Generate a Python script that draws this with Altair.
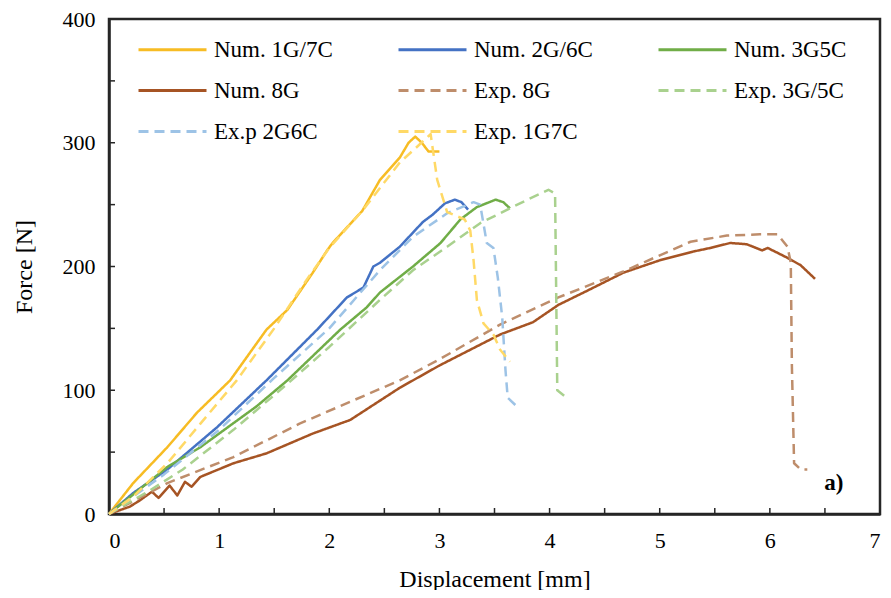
import altair as alt
import pandas as pd

# ---------------- data ----------------
series_names = ["Num. 1G/7C", "Num. 2G/6C", "Num. 3G5C", "Num. 8G",
                "Exp. 8G", "Exp. 3G/5C", "Ex.p 2G6C", "Exp. 1G7C"]
series_colors = ["#F7BC24", "#4472C4", "#70AD47", "#A65424",
                 "#BE8D6B", "#A9D18E", "#9DC3E6", "#FFD966"]
series_dashes = [[1, 0], [1, 0], [1, 0], [1, 0],
                 [10, 6], [10, 6], [10, 6], [10, 6]]
# legend is filled column by column (3 rows): this order gives the reference's row layout
legend_order = [0, 3, 6, 1, 4, 7, 2, 5]

num_1g7c_x = [0, 0.22, 0.53, 0.8, 1.1, 1.43, 1.62, 1.85, 1.98, 2.03, 2.3, 2.46, 2.64, 2.72, 2.78, 2.84, 2.9, 3.0]
num_1g7c_f = [0, 25, 54, 82, 108, 149, 165, 195, 213, 219, 245, 270, 288, 300, 305, 300, 293, 293]

num_2g6c_x = [0, 0.22, 0.53, 0.98, 1.43, 1.89, 2.16, 2.31, 2.4, 2.46, 2.64, 2.85, 2.94, 3.05, 3.14, 3.2, 3.26]
num_2g6c_f = [0, 17, 36, 70, 108, 149, 175, 183, 200, 203, 216, 236, 242, 251, 254, 252, 246]

num_3g5c_x = [0, 0.53, 0.83, 1.34, 1.62, 2.1, 2.34, 2.46, 2.76, 3.01, 3.19, 3.34, 3.51, 3.58, 3.64]
num_3g5c_f = [0, 38, 54, 87, 108, 149, 167, 179, 200, 219, 238, 248, 254, 252, 247]

num_8g_x = [0, 0.19, 0.28, 0.39, 0.45, 0.55, 0.62, 0.69, 0.75, 0.83, 1.13, 1.43, 1.85, 2.19, 2.64, 3.0,
            3.55, 3.85, 4.08, 4.31, 4.67, 5.0, 5.3, 5.46, 5.64, 5.79, 5.93, 5.98, 6.16, 6.28, 6.41]
num_8g_f = [0, 6, 11, 18, 13, 23, 15, 26, 22, 30, 41, 49, 65, 76, 102, 120,
            145, 155, 169, 179, 195, 205, 212, 215, 219, 218, 213, 215, 207, 201, 190]

exp_8g_x = [0, 0.53, 1.13, 1.73, 2.64, 3.0, 3.55, 4.08, 4.67, 5.28, 5.61, 5.91, 6.07, 6.16, 6.19, 6.2, 6.22, 6.28, 6.34]
exp_8g_f = [0, 25, 46, 73, 108, 125, 153, 175, 196, 220, 225, 226, 226, 216, 203, 120, 41, 36, 36]

exp_3g5c_x = [0, 0.37, 0.67, 1.13, 1.63, 2.0, 2.46, 2.76, 3.07, 3.37, 3.64, 3.8, 3.99, 4.05, 4.06, 4.07, 4.14]
exp_3g5c_f = [0, 19, 36, 68, 106, 135, 173, 197, 216, 235, 247, 254, 262, 259, 180, 100, 95]

exp_2g6c_x = [0, 0.5, 1.0, 1.5, 2.0, 2.46, 2.76, 3.07, 3.31, 3.37, 3.43, 3.49, 3.53, 3.57, 3.6, 3.62, 3.69]
exp_2g6c_f = [0, 32, 68, 110, 150, 197, 224, 243, 252, 250, 219, 215, 191, 159, 116, 94, 88]

exp_1g7c_x = [0, 0.22, 0.53, 0.83, 1.16, 1.5, 1.8, 2.0, 2.3, 2.64, 2.8, 2.92, 2.98, 3.07, 3.23, 3.28, 3.31,
              3.34, 3.4, 3.49, 3.55, 3.64]
exp_1g7c_f = [0, 14, 41, 73, 108, 150, 190, 215, 245, 284, 297, 307, 270, 244, 238, 229, 205,
              173, 154, 145, 133, 123]

x_ticks_major = [0, 1, 2, 3, 4, 5, 6, 7]
x_ticks_minor = [0.5, 1, 1.5, 2, 2.5, 3, 3.5, 4, 4.5, 5, 5.5, 6, 6.5]
y_ticks_major = [0, 100, 200, 300, 400]
y_ticks_minor = [50, 100, 150, 200, 250, 300, 350]

annot_text = ["a)"]
annot_x = [6.58]
annot_y = [25]

# ---------------- build table ----------------
xs = [num_1g7c_x, num_2g6c_x, num_3g5c_x, num_8g_x, exp_8g_x, exp_3g5c_x, exp_2g6c_x, exp_1g7c_x]
fs = [num_1g7c_f, num_2g6c_f, num_3g5c_f, num_8g_f, exp_8g_f, exp_3g5c_f, exp_2g6c_f, exp_1g7c_f]
rows = []
for name, xv, fv in zip(series_names, xs, fs):
    for i, (a, b) in enumerate(zip(xv, fv)):
        rows.append({"series": name, "x": a, "F": b, "i": i})
df = pd.DataFrame(rows)

dom = [series_names[k] for k in legend_order]
col = [series_colors[k] for k in legend_order]
dsh = [series_dashes[k] for k in legend_order]

FONT = "Liberation Serif"
W, H = 771, 495

xscale = alt.Scale(domain=[0, 7], nice=False)
yscale = alt.Scale(domain=[0, 400], nice=False)

lines = alt.Chart(df).mark_line(strokeWidth=2.5, strokeJoin="round", strokeCap="butt").encode(
    x=alt.X("x:Q", scale=xscale,
            axis=alt.Axis(title="Displacement [mm]", values=x_ticks_major, format="d")),
    y=alt.Y("F:Q", scale=yscale,
            axis=alt.Axis(title="Force [N]", values=y_ticks_major, format="d")),
    color=alt.Color("series:N", scale=alt.Scale(domain=dom, range=col),
                    legend=alt.Legend(title=None)),
    strokeDash=alt.StrokeDash("series:N", scale=alt.Scale(domain=dom, range=dsh),
                              legend=alt.Legend(title=None)),
    order=alt.Order("i:Q"),
)

xt = alt.Chart(pd.DataFrame({"t": x_ticks_minor})).mark_rule(color="#262626", strokeWidth=1.5).encode(
    x=alt.X("t:Q", scale=xscale), y=alt.value(H), y2=alt.value(H - 6))
yt = alt.Chart(pd.DataFrame({"t": y_ticks_minor})).mark_rule(color="#262626", strokeWidth=1.5).encode(
    y=alt.Y("t:Q", scale=yscale), x=alt.value(0), x2=alt.value(6))

annot = alt.Chart(pd.DataFrame({"t": annot_text, "x": annot_x, "y": annot_y})).mark_text(
    font=FONT, fontSize=23, fontWeight="bold", color="black").encode(
    x=alt.X("x:Q", scale=xscale), y=alt.Y("y:Q", scale=yscale), text="t:N")

chart = alt.layer(lines, xt, yt, annot).properties(
    width=W, height=H,
    autosize=alt.AutoSizeParams(type="none"),
    padding={"left": 101, "top": 11, "right": 3, "bottom": 76},
).configure_view(
    stroke="#262626", strokeWidth=2.5
).configure_axis(
    grid=False, ticks=False, domainColor="#262626", domainWidth=2.5,
    labelFont=FONT, labelFontSize=22, labelColor="black",
    titleFont=FONT, titleFontSize=24, titleColor="black", titleFontWeight="normal",
).configure_axisX(
    labelPadding=16, titlePadding=16,
).configure_axisY(
    labelPadding=14, titlePadding=26,
).configure_legend(
    orient="none", legendX=28, legendY=20, columns=3, gridAlign="all",
    columnPadding=64, rowPadding=17, clipHeight=21,
    symbolType="stroke", symbolSize=4624, symbolStrokeWidth=3,
    labelFont=FONT, labelFontSize=23, labelColor="black", labelOffset=6,
    padding=0,
)

chart.save("out.html", embed_options={"renderer": "svg", "actions": False})
